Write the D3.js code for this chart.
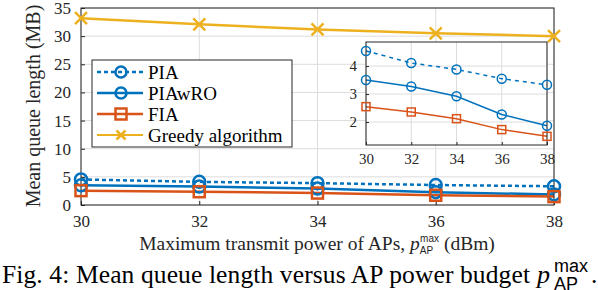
<!DOCTYPE html>
<html>
<head>
<meta charset="utf-8">
<script src="https://cdn.jsdelivr.net/npm/d3@7"></script>
<style>
  body { margin: 0; background: #fff; }
  text { font-family: "Liberation Serif", "Times New Roman", serif; }
  text .sf, text.sf { font-family: "Liberation Sans", sans-serif; }
</style>
</head>
<body>
<svg id="chart" width="598" height="290"></svg>
<script>
// data
var powers = [30, 32, 34, 36, 38]
var pia = [4.54, 4.11, 3.88, 3.55, 3.33]
var piawro = [3.5, 3.27, 2.92, 2.27, 1.87]
var fia = [2.55, 2.36, 2.12, 1.73, 1.49]
var greedy = [33.2, 32.1, 31.2, 30.5, 30.0]
var yTicks = [0, 5, 10, 15, 20, 25, 30, 35]
var insetYTicks = [2, 3, 4]

var series = [
  {name: 'PIA', values: pia, color: '#0072BD', marker: 'circle', dash: true},
  {name: 'PIAwRO', values: piawro, color: '#0072BD', marker: 'circle', dash: false},
  {name: 'FIA', values: fia, color: '#D95319', marker: 'square', dash: false},
  {name: 'Greedy algorithm', values: greedy, color: '#EDB120', marker: 'cross', dash: false}
]

var svg = d3.select('#chart')

function drawMarker(g, type, x, y, r, color, sw) {
  if (type == 'circle') {
    g.append('circle').attr('cx', x).attr('cy', y).attr('r', r)
      .attr('fill', 'none').attr('stroke', color).attr('stroke-width', sw)
  } else if (type == 'square') {
    g.append('rect').attr('x', x - r).attr('y', y - r).attr('width', 2 * r).attr('height', 2 * r)
      .attr('fill', 'none').attr('stroke', color).attr('stroke-width', sw)
  } else {
    g.append('path').attr('d', 'M' + (x - r) + ',' + (y - r) + 'L' + (x + r) + ',' + (y + r) + 'M' + (x - r) + ',' + (y + r) + 'L' + (x + r) + ',' + (y - r))
      .attr('stroke', color).attr('stroke-width', sw).attr('fill', 'none')
  }
}

function panel(x, y, opts) {
  var g = svg.append('g')
  var x0 = x.range()[0], x1 = x.range()[1]
  var y0 = y.range()[0], y1 = y.range()[1]
  g.append('rect').attr('x', x0).attr('y', y1).attr('width', x1 - x0).attr('height', y0 - y1).attr('fill', '#fff')
  // grid
  g.selectAll('.vg').data(powers).enter().append('line')
    .attr('x1', function(d){ return x(d) }).attr('x2', function(d){ return x(d) })
    .attr('y1', y0).attr('y2', y1).attr('stroke', '#dcdcdc').attr('stroke-width', 1)
  g.selectAll('.hg').data(opts.yTicks).enter().append('line')
    .attr('x1', x0).attr('x2', x1)
    .attr('y1', function(d){ return y(d) }).attr('y2', function(d){ return y(d) })
    .attr('stroke', '#dcdcdc').attr('stroke-width', 1)
  // tick labels via d3 axes
  var xa = g.append('g').attr('transform', 'translate(0,' + y0 + ')')
    .call(d3.axisBottom(x).tickValues(powers).tickSize(opts.tick).tickPadding(opts.xpad).tickFormat(d3.format('d')))
  var ya = g.append('g').attr('transform', 'translate(' + x0 + ',0)')
    .call(d3.axisLeft(y).tickValues(opts.yTicks).tickSize(opts.tick).tickPadding(opts.ypad).tickFormat(d3.format('d')))
  ;[xa, ya].forEach(function(a){
    a.attr('font-family', null)
    a.select('.domain').remove()
    a.selectAll('.tick line').attr('stroke', '#262626')
    a.selectAll('text').attr('font-size', opts.fs).attr('fill', '#262626')
  })
  xa.selectAll('.tick line').attr('y2', -opts.tick)
  ya.selectAll('.tick line').attr('x2', opts.tick)
  // lines
  series.forEach(function(s){
    if (opts.skip && opts.skip.indexOf(s.name) >= 0) return
    var line = d3.line().x(function(d, i){ return x(powers[i]) }).y(function(d){ return y(d) })
    g.append('path').datum(s.values).attr('d', line).attr('fill', 'none')
      .attr('stroke', s.color).attr('stroke-width', opts.lw)
      .attr('stroke-dasharray', s.dash ? opts.dash : null)
  })
  g.append('rect').attr('x', x0).attr('y', y1).attr('width', x1 - x0).attr('height', y0 - y1)
    .attr('fill', 'none').attr('stroke', '#262626').attr('stroke-width', 1)
  series.forEach(function(s){
    if (opts.skip && opts.skip.indexOf(s.name) >= 0) return
    s.values.forEach(function(v, i){
      drawMarker(g, s.marker, x(powers[i]), y(v), s.marker == 'square' ? opts.r - 0.5 : opts.r, s.color, opts.mw)
    })
  })
  return g
}

// main axes
var x = d3.scaleLinear().domain([30, 38]).range([81, 554])
var y = d3.scaleLinear().domain([0, 35]).range([205, 8])
panel(x, y, {yTicks: yTicks, tick: 4, xpad: 6, ypad: 6, fs: 17, lw: 2.5, mw: 2.5, r: 6, dash: '4,3'})

// axis titles
svg.append('text').attr('transform', 'translate(40,106)rotate(-90)')
  .attr('text-anchor', 'middle').attr('font-size', 20).attr('fill', '#262626')
  .text('Mean queue length (MB)')
var xl = svg.append('text').attr('x', 317).attr('y', 250).attr('text-anchor', 'middle')
  .attr('font-size', 19.5).attr('fill', '#262626')
xl.append('tspan').text('Maximum transmit power of APs, ')
xl.append('tspan').attr('font-style', 'italic').text('p')
xl.append('tspan').attr('class', 'sf').attr('font-size', 10).attr('dy', 4).text('AP')
xl.append('tspan').attr('class', 'sf').attr('font-size', 10).attr('dx', -13).attr('dy', -12).text('max')
xl.append('tspan').attr('dy', 8).text(' (dBm)')

// legend
var legend = svg.append('g')
legend.append('rect').attr('x', 92).attr('y', 60).attr('width', 200).attr('height', 87)
  .attr('fill', '#fff').attr('stroke', '#262626').attr('stroke-width', 1)
series.forEach(function(s, i){
  var ly = 72 + i * 21
  legend.append('line').attr('x1', 97).attr('x2', 143).attr('y1', ly).attr('y2', ly)
    .attr('stroke', s.color).attr('stroke-width', s.marker == 'cross' ? 2 : 2.5).attr('stroke-dasharray', s.dash ? '4,3' : null)
  drawMarker(legend, s.marker, 121, ly, s.marker == 'cross' ? 4.5 : 5.5, s.color, 2.5)
  legend.append('text').attr('x', 148).attr('y', ly + 6.5).attr('font-size', 19).attr('fill', '#000').text(s.name)
})

// inset
var xi = d3.scaleLinear().domain([30, 38]).range([366, 547])
var yi = d3.scaleLinear().domain([1.18, 4.86]).range([145, 42])
panel(xi, yi, {yTicks: insetYTicks, tick: 3, xpad: 5, ypad: 6, fs: 15, lw: 1.5, mw: 1.5, r: 4.5, dash: '4,4', skip: ['Greedy algorithm']})

// caption (spread like justified LaTeX text)
svg.append('text').attr('x', 2).attr('y', 283).attr('font-size', 25.5).attr('fill', '#000')
  .attr('textLength', 528).attr('lengthAdjust', 'spacing')
  .text('Fig. 4: Mean queue length versus AP power budget')
svg.append('text').attr('x', 537).attr('y', 283).attr('font-size', 26).attr('font-style', 'italic').attr('fill', '#000').text('p')
svg.append('text').attr('class', 'sf').attr('x', 554).attr('y', 290).attr('font-size', 18).attr('fill', '#000').text('AP')
svg.append('text').attr('class', 'sf').attr('x', 554).attr('y', 272).attr('font-size', 18).attr('fill', '#000').text('max')
svg.append('text').attr('x', 591).attr('y', 283).attr('font-size', 25.5).attr('fill', '#000').text('.')
</script>
</body>
</html>
